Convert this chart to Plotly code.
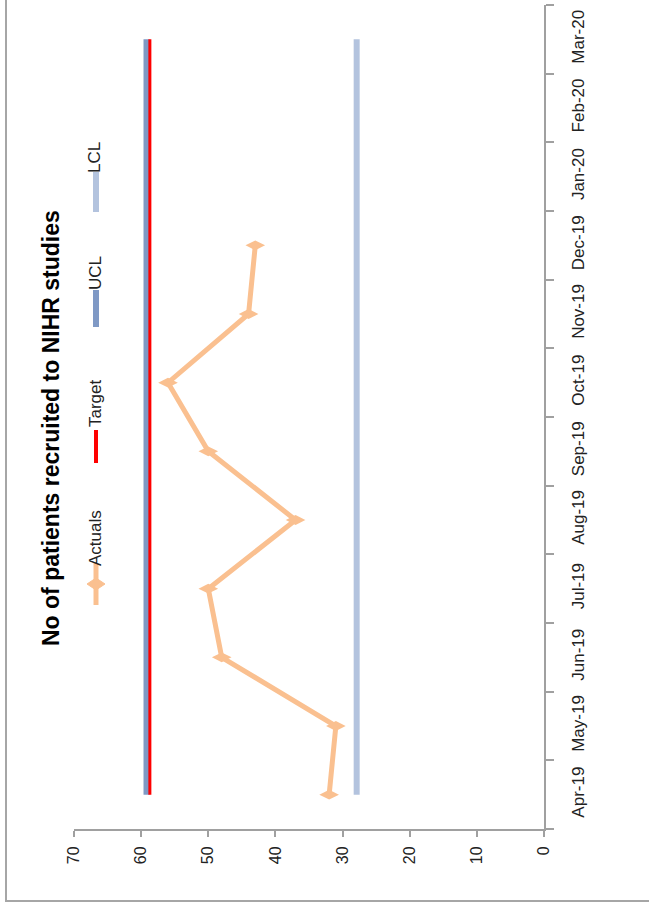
import plotly.graph_objects as go

# Monthly recruitment data
months = ["Apr-19", "May-19", "Jun-19", "Jul-19", "Aug-19", "Sep-19",
          "Oct-19", "Nov-19", "Dec-19", "Jan-20", "Feb-20", "Mar-20"]
actual_months = months[:9]
actuals = [32, 31, 48, 50, 37, 50, 56, 44, 43]
target = [58.7] * len(months)
ucl = [59.2] * len(months)
lcl = [27.9] * len(months)
value_ticks = [0, 10, 20, 30, 40, 50, 60, 70]

title_text = "No of patients recruited to NIHR studies"

C_ACT = "#FAC090"
C_TGT = "#FF0000"
C_UCL = "#7F99C5"
C_LCL = "#B3C3DE"
AXIS = "#A0A0A0"
FONT = "Liberation Sans, Arial, sans-serif"

W, H = 649, 911
L, R, T, B = 74, 544, 5, 829


def px(x):
    return (x - L) / (R - L)


def py(y):
    return (B - y) / (B - T)


fig = go.Figure()
fig.add_trace(go.Scatter(x=ucl, y=months, mode="lines",
                         line=dict(color=C_UCL, width=6), name="UCL"))
fig.add_trace(go.Scatter(x=target, y=months, mode="lines",
                         line=dict(color=C_TGT, width=3), name="Target"))
fig.add_trace(go.Scatter(x=lcl, y=months, mode="lines",
                         line=dict(color=C_LCL, width=6), name="LCL"))
fig.add_trace(go.Scatter(x=actuals, y=actual_months, mode="lines+markers",
                         line=dict(color=C_ACT, width=5),
                         marker=dict(symbol="diamond-wide", size=14, color=C_ACT),
                         name="Actuals"))

fig.update_xaxes(range=[70, 0], tickvals=value_ticks, ticks="outside", ticklen=6,
                 tickcolor=AXIS, tickwidth=2, showline=True, linecolor=AXIS, linewidth=2,
                 tickangle=-90, showgrid=False, zeroline=False, ticklabelstandoff=3,
                 tickfont=dict(family=FONT, size=16, color="#222"))
fig.update_yaxes(type="category", categoryorder="array", categoryarray=months,
                 range=[-0.5, 11.5], side="right", ticks="outside", tickson="boundaries",
                 ticklen=8, tickcolor=AXIS, tickwidth=2, showline=True, linecolor=AXIS,
                 linewidth=2, tickangle=-90, showgrid=False, zeroline=False,
                 ticklabelstandoff=18,
                 tickfont=dict(family=FONT, size=17, color="#222"))

shapes = []
# outer frame of the chart area
shapes.append(dict(type="rect", xref="paper", yref="paper",
                   x0=px(6), x1=px(W + 40), y0=py(901), y1=py(-40),
                   line=dict(color="#A6A6A6", width=2)))

# legend glyphs (vertical, reading bottom to top)
LX = 96
legend_items = [
    ("Actuals", C_ACT, 5, 563, 605, 538),
    ("Target", C_TGT, 4, 430, 463, 403),
    ("UCL", C_UCL, 6, 290, 327, 273),
    ("LCL", C_LCL, 6, 172, 212, 158),
]
annotations = []
for name, col, w, ytop, ybot, ytxt in legend_items:
    shapes.append(dict(type="line", xref="paper", yref="paper",
                       x0=px(LX), x1=px(LX), y0=py(ytop), y1=py(ybot),
                       line=dict(color=col, width=w)))
    annotations.append(dict(text=name, xref="paper", yref="paper",
                            x=px(95), y=py(ytxt), xanchor="center", yanchor="middle",
                            textangle=-90, showarrow=False,
                            font=dict(family=FONT, size=17, color="#222")))

# diamond marker in the Actuals legend entry
cx, cy = LX, 584
path = "M {} {} L {} {} L {} {} L {} {} Z".format(
    px(cx - 9), py(cy), px(cx), py(cy - 6), px(cx + 9), py(cy), px(cx), py(cy + 6))
shapes.append(dict(type="path", xref="paper", yref="paper", path=path,
                   fillcolor=C_ACT, line=dict(color=C_ACT, width=1)))

annotations.append(dict(text="<b>" + title_text + "</b>", xref="paper", yref="paper",
                        x=px(51), y=py(428), xanchor="center", yanchor="middle",
                        textangle=-90, showarrow=False,
                        font=dict(family=FONT, size=23, color="#000")))

fig.update_layout(width=W, height=H, margin=dict(l=L, r=W - R, t=T, b=H - B),
                  plot_bgcolor="white", paper_bgcolor="white", showlegend=False,
                  shapes=shapes, annotations=annotations)

fig.write_html("out.html")
